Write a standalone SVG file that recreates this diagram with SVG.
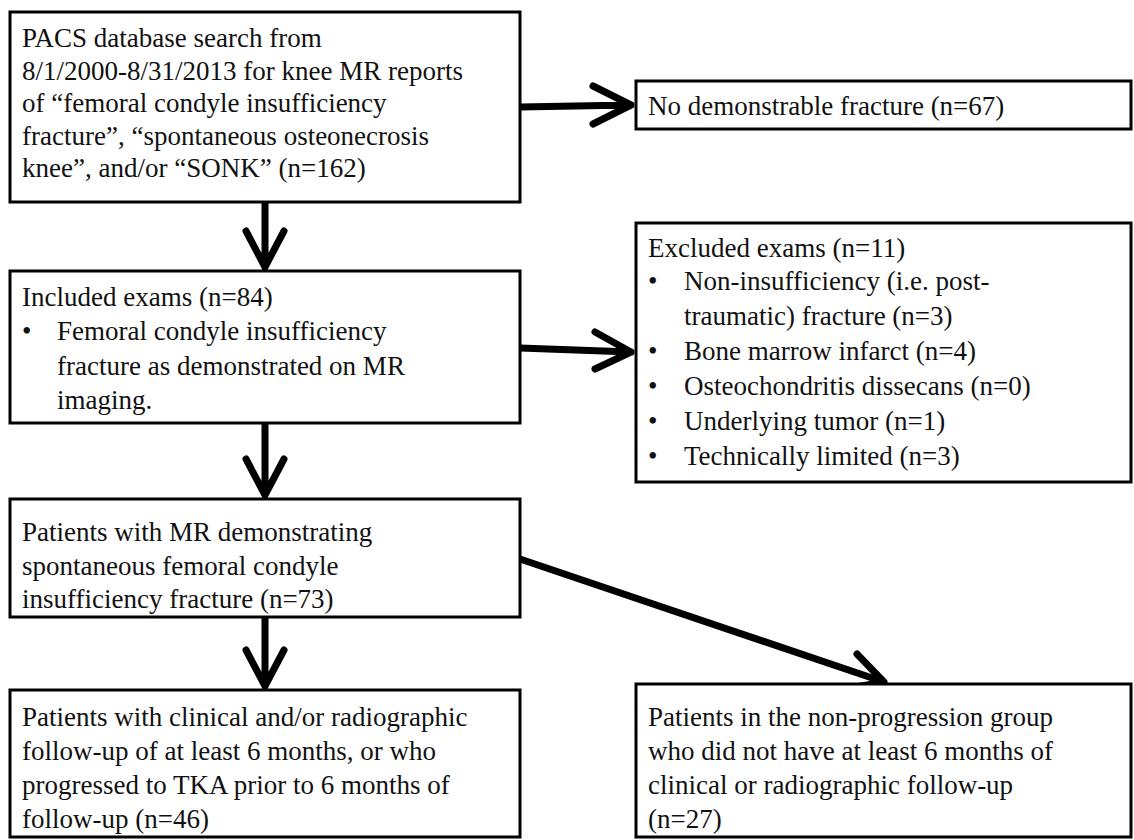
<svg xmlns="http://www.w3.org/2000/svg" width="1134" height="840" viewBox="0 0 1134 840">
<style>
.box{fill:#fff;stroke:#000;stroke-width:3}
.arr{fill:none;stroke:#000;stroke-width:7;stroke-linecap:round;stroke-linejoin:round}
</style>
<rect width="1134" height="840" fill="#fff"/>
<g id="connectors">
<path class="arr" d="M520,107 L631,105 M593,86 L631,105 L593,124"/>
<path class="arr" d="M265,202 L265,267 M246,231 L265,267 L284,231"/>
<path class="arr" d="M520,348 L631,352 M595,332 L631,352 L595,369"/>
<path class="arr" d="M265,423 L265,495 M246,459 L265,495 L284,459"/>
<path class="arr" d="M265,617 L265,686 M246,650 L265,686 L284,650"/>
<path class="arr" d="M520,559 L884,682 M857,654 L884,682 L845,689"/>
</g>
<g font-family="'Liberation Serif', 'DejaVu Serif', serif" font-size="27" fill="#111">
<g id="n1">
<rect class="box" x="10" y="12" width="510" height="190"/>
<text x="22" y="47">PACS database search from</text>
<text x="22" y="80">8/1/2000-8/31/2013 for knee MR reports</text>
<text x="22" y="112">of “femoral condyle insufficiency</text>
<text x="22" y="145">fracture”, “spontaneous osteonecrosis</text>
<text x="22" y="177">knee”, and/or “SONK” (n=162)</text>
</g>
<g id="n2">
<rect class="box" x="636" y="81" width="495" height="48"/>
<text x="648" y="115">No demonstrable fracture (n=67)</text>
</g>
<g id="n3">
<rect class="box" x="10" y="271" width="510" height="152"/>
<text x="22" y="306">Included exams (n=84)</text>
<text x="22" y="340">•</text>
<text x="57" y="340">Femoral condyle insufficiency</text>
<text x="57" y="375">fracture as demonstrated on MR</text>
<text x="57" y="409">imaging.</text>
</g>
<g id="n4">
<rect class="box" x="636" y="223" width="495" height="259"/>
<text x="648" y="257">Excluded exams (n=11)</text>
<text x="648" y="290">•</text>
<text x="684" y="290">Non-insufficiency (i.e. post-</text>
<text x="684" y="325">traumatic) fracture (n=3)</text>
<text x="648" y="360">•</text>
<text x="684" y="360">Bone marrow infarct (n=4)</text>
<text x="648" y="395">•</text>
<text x="684" y="395">Osteochondritis dissecans (n=0)</text>
<text x="648" y="430">•</text>
<text x="684" y="430">Underlying tumor (n=1)</text>
<text x="648" y="465">•</text>
<text x="684" y="465">Technically limited (n=3)</text>
</g>
<g id="n5">
<rect class="box" x="10" y="499" width="510" height="118"/>
<text x="22" y="541">Patients with MR demonstrating</text>
<text x="22" y="575">spontaneous femoral condyle</text>
<text x="22" y="608">insufficiency fracture (n=73)</text>
</g>
<g id="n6">
<rect class="box" x="10" y="690" width="510" height="147"/>
<text x="22" y="726">Patients with clinical and/or radiographic</text>
<text x="22" y="760">follow-up of at least 6 months, or who</text>
<text x="22" y="794">progressed to TKA prior to 6 months of</text>
<text x="22" y="828">follow-up (n=46)</text>
</g>
<g id="n7">
<rect class="box" x="636" y="684" width="495" height="153"/>
<text x="648" y="726">Patients in the non-progression group</text>
<text x="648" y="760">who did not have at least 6 months of</text>
<text x="648" y="794">clinical or radiographic follow-up</text>
<text x="648" y="828">(n=27)</text>
</g>
</g>
</svg>
